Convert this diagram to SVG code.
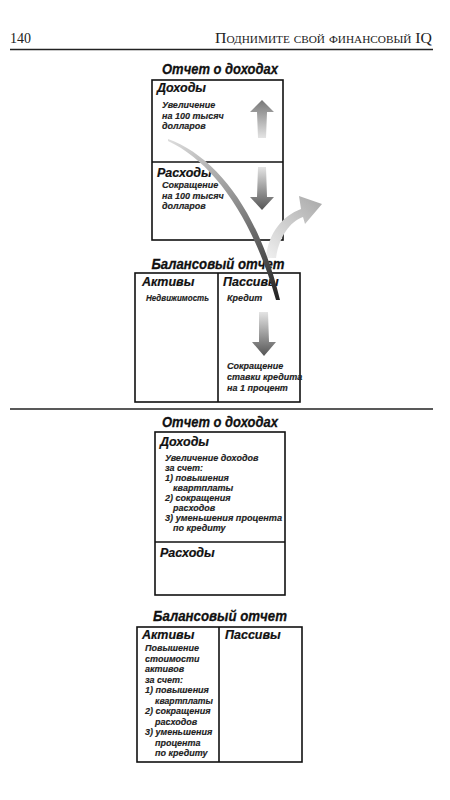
<svg xmlns="http://www.w3.org/2000/svg" width="450" height="800" viewBox="0 0 450 800">
<style>
.hdr{font-family:"Liberation Serif","DejaVu Serif",serif;font-size:14px;fill:#222}
.ttl{font-family:"Liberation Sans",Arial,sans-serif;font-weight:bold;font-style:italic;font-size:15.5px;fill:#111;stroke:#111;stroke-width:0.3;text-anchor:middle}
.sec{font-family:"Liberation Sans",Arial,sans-serif;font-weight:bold;font-style:italic;font-size:12.5px;fill:#111;stroke:#111;stroke-width:0.2}
.txt{font-family:"Liberation Sans",Arial,sans-serif;font-weight:bold;font-style:italic;font-size:9px;fill:#222;stroke:#222;stroke-width:0.15}
.box{fill:none;stroke:#111;stroke-width:1.6}
.rule{stroke:#222;stroke-width:1.4}
</style>
<defs>
<linearGradient id="gUp" x1="0" y1="0" x2="0" y2="1">
<stop offset="0" stop-color="#777"/><stop offset="1" stop-color="#e4e4e4"/>
</linearGradient>
<linearGradient id="gDown" x1="0" y1="0" x2="0" y2="1">
<stop offset="0" stop-color="#e4e4e4"/><stop offset="1" stop-color="#555"/>
</linearGradient>
<linearGradient id="gCurve" gradientUnits="userSpaceOnUse" x1="168" y1="140" x2="278" y2="300">
<stop offset="0" stop-color="#ddd"/><stop offset="0.5" stop-color="#888"/><stop offset="1" stop-color="#222"/>
</linearGradient>
<linearGradient id="gGrey" gradientUnits="userSpaceOnUse" x1="270" y1="258" x2="322" y2="200">
<stop offset="0" stop-color="#eee"/><stop offset="1" stop-color="#aaa"/>
</linearGradient>
</defs>

<g id="page-header">
<text class="hdr" x="10" y="43" font-size="13">140</text>
<text class="hdr" x="432" y="43" text-anchor="end" font-size="15" style="font-variant:small-caps" textLength="217" lengthAdjust="spacingAndGlyphs">Поднимите свой финансовый IQ</text>
<line class="rule" x1="10" y1="49.5" x2="433" y2="49.5"/>
</g>

<g id="income-statement-1">
<text class="ttl" x="220" y="74" textLength="116" lengthAdjust="spacingAndGlyphs">Отчет о доходах</text>
<rect class="box" x="152" y="80" width="131" height="160"/>
<line class="box" x1="152" y1="162" x2="283" y2="162"/>
<text class="sec" x="157" y="92">Доходы</text>
<text class="txt" x="162" y="108">Увеличение</text>
<text class="txt" x="162" y="118.5">на 100 тысяч</text>
<text class="txt" x="162" y="129">долларов</text>
<text class="sec" x="157" y="177">Расходы</text>
<text class="txt" x="162" y="188">Сокращение</text>
<text class="txt" x="162" y="198.5">на 100 тысяч</text>
<text class="txt" x="162" y="209">долларов</text>
<polygon points="262,100 274,112 267,112 266,138 258,138 257,112 250,112" fill="url(#gUp)"/>
<polygon points="258,167 266,167 267,197 274,197 262,210 250,197 257,197" fill="url(#gDown)"/>
</g>

<g id="balance-sheet-1">
<text class="ttl" x="218" y="269" textLength="133" lengthAdjust="spacingAndGlyphs">Балансовый отчет</text>
<rect class="box" x="135" y="273" width="165" height="129"/>
<line class="box" x1="218" y1="273" x2="218" y2="402"/>
<text class="sec" x="142" y="286">Активы</text>
<text class="txt" x="146" y="301" textLength="63" lengthAdjust="spacingAndGlyphs">Недвижимость</text>
<text class="sec" x="223" y="286">Пассивы</text>
<text class="txt" x="227" y="301">Кредит</text>
<polygon points="259,312 268,312 269,342 276,342 264,356 252,342 259,342" fill="url(#gDown)"/>
<text class="txt" x="227" y="369">Сокращение</text>
<text class="txt" x="227" y="380">ставки кредита</text>
<text class="txt" x="227" y="391">на 1 процент</text>
</g>

<g id="connectors">
<path d="M266,258 C268,234 282,216 301,209 L299,196 L322,204 L305,224 L303,217 C289,222 279,238 276,258 Z" fill="url(#gGrey)"/>
<path d="M168,139 C217,157 259,212 280,300 L276,300 C252,216 213,162 168,141 Z" fill="url(#gCurve)"/>
</g>

<g id="separator">
<line class="rule" x1="10" y1="409" x2="433" y2="409"/>
</g>

<g id="income-statement-2">
<text class="ttl" x="220" y="427" textLength="116" lengthAdjust="spacingAndGlyphs">Отчет о доходах</text>
<rect class="box" x="155" y="432" width="130" height="163"/>
<line class="box" x1="155" y1="542" x2="285" y2="542"/>
<text class="sec" x="160" y="446">Доходы</text>
<text class="txt" x="165" y="461">Увеличение доходов</text>
<text class="txt" x="165" y="471">за счет:</text>
<text class="txt" x="165" y="481">1) повышения</text>
<text class="txt" x="173" y="491">квартплаты</text>
<text class="txt" x="165" y="501">2) сокращения</text>
<text class="txt" x="173" y="511">расходов</text>
<text class="txt" x="165" y="521" textLength="117" lengthAdjust="spacingAndGlyphs">3) уменьшения процента</text>
<text class="txt" x="173" y="531">по кредиту</text>
<text class="sec" x="160" y="557">Расходы</text>
</g>

<g id="balance-sheet-2">
<text class="ttl" x="220" y="621" textLength="134" lengthAdjust="spacingAndGlyphs">Балансовый отчет</text>
<rect class="box" x="137" y="627" width="165" height="135"/>
<line class="box" x1="219" y1="627" x2="219" y2="762"/>
<text class="sec" x="142" y="639">Активы</text>
<text class="sec" x="225" y="639">Пассивы</text>
<text class="txt" x="145" y="651">Повышение</text>
<text class="txt" x="145" y="661.5">стоимости</text>
<text class="txt" x="145" y="672">активов</text>
<text class="txt" x="145" y="682.5">за счет:</text>
<text class="txt" x="145" y="693">1) повышения</text>
<text class="txt" x="155" y="703.5" textLength="58" lengthAdjust="spacingAndGlyphs">квартплаты</text>
<text class="txt" x="145" y="714">2) сокращения</text>
<text class="txt" x="155" y="724.5">расходов</text>
<text class="txt" x="145" y="735">3) уменьшения</text>
<text class="txt" x="155" y="745.5">процента</text>
<text class="txt" x="155" y="756">по кредиту</text>
</g>
</svg>
